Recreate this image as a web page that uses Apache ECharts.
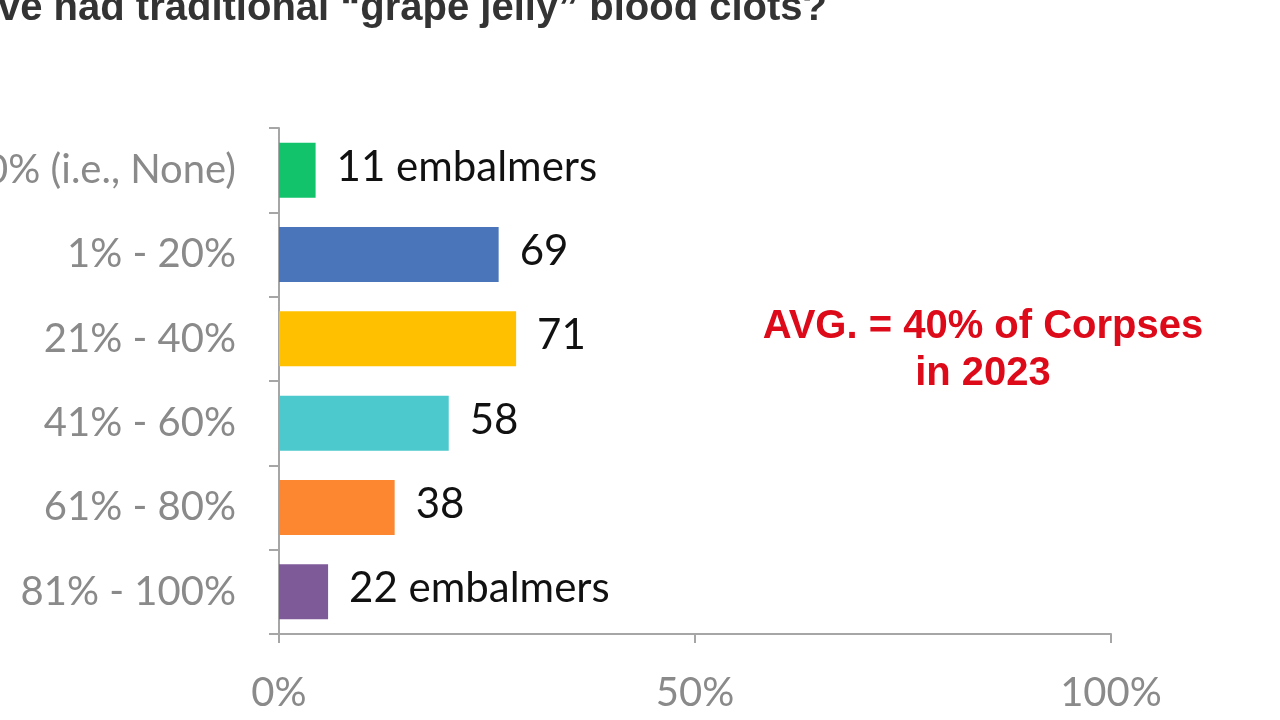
<!DOCTYPE html>
<html>
<head>
<meta charset="utf-8">
<script src="https://cdn.jsdelivr.net/npm/echarts@6/dist/echarts.min.js"></script>
<style>
html,body{margin:0;padding:0;background:#fff;}
#chart{width:1280px;height:720px;}
</style>
</head>
<body>
<div id="chart"></div>
<script>
// Data
const categories = ['0% (i.e., None)', '1% - 20%', '21% - 40%', '41% - 60%', '61% - 80%', '81% - 100%'];
const shareValues = [4.4, 26.4, 28.5, 20.4, 13.9, 5.9];          // bar length, % of axis
const countLabels = ['11 embalmers', '69', '71', '58', '38', '22 embalmers'];
const barColors = ['#13c36b', '#4a75ba', '#ffc000', '#4bc9cc', '#fd8731', '#7f5a98'];
const xTicks = [0, 50, 100];
const titleText = 've had traditional \u201cgrape jelly\u201d blood clots?';
const noteLines = ['AVG. = 40% of Corpses', 'in 2023'];

const chart = echarts.init(document.getElementById('chart'));
const axisGray = '#a6a6a6';
const labelGray = '#8a8a8a';

chart.setOption({
  backgroundColor: '#ffffff',
  animation: false,
  grid: { left: 279, right: 169, top: 128, bottom: 86, containLabel: false, outerBoundsMode: 'none' },
  xAxis: {
    type: 'value',
    min: xTicks[0],
    max: xTicks[xTicks.length - 1],
    interval: xTicks[1] - xTicks[0],
    axisLine: { show: true, lineStyle: { color: axisGray, width: 2 } },
    axisTick: { show: true, length: 9, lineStyle: { color: axisGray, width: 2 } },
    splitLine: { show: false },
    axisLabel: {
      formatter: v => v + '%',
      color: labelGray,
      fontFamily: 'Lato',
      fontSize: 40,
      margin: 39
    }
  },
  yAxis: {
    type: 'category',
    data: categories,
    inverse: true,
    axisLine: { show: true, lineStyle: { color: axisGray, width: 2 } },
    axisTick: { show: true, length: 10, lineStyle: { color: axisGray, width: 2 } },
    axisLabel: {
      color: labelGray,
      fontFamily: 'Lato',
      fontSize: 40,
      margin: 43
    }
  },
  series: [{
    type: 'bar',
    barWidth: 55,
    data: shareValues.map((v, i) => ({ value: v, itemStyle: { color: barColors[i] } })),
    label: {
      show: true,
      position: 'right',
      distance: 21,
      offset: [0, -3],
      color: '#111111',
      fontFamily: 'Lato',
      fontSize: 42,
      formatter: p => countLabels[p.dataIndex]
    }
  }],
  graphic: [
    {
      type: 'text',
      left: -2,
      top: -11,
      style: {
        text: titleText,
        fill: '#333333',
        font: 'bold 40px "Liberation Sans", Arial, sans-serif'
      }
    },
    {
      type: 'text',
      x: 983,
      y: 303,
      style: {
        text: noteLines.join('\n'),
        fill: '#dd0a1a',
        font: 'bold 40px "Liberation Sans", Arial, sans-serif',
        align: 'center',
        lineHeight: 47
      }
    }
  ]
});
</script>
</body>
</html>
